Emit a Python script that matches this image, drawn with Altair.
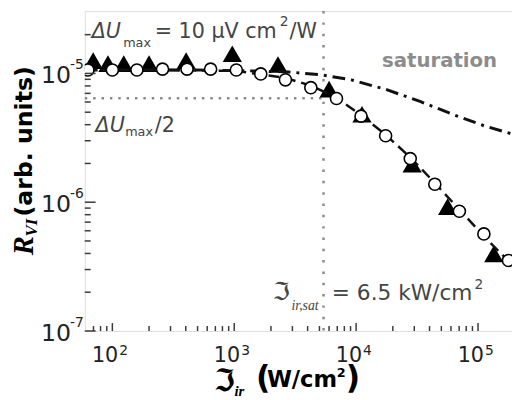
import altair as alt
import pandas as pd

# ---------------- data ----------------
circle_x = [63, 100, 159, 258, 410, 640, 1040, 1650, 2630, 4250, 6900, 10970,
            17460, 27800, 44200, 70300, 111700, 177800]
circle_y = [1.064e-5, 1.064e-5, 1.064e-5, 1.08e-5, 1.08e-5, 1.08e-5, 1.064e-5,
            0.991e-5, 0.892e-5, 0.775e-5, 0.639e-5, 0.466e-5, 0.328e-5,
            0.218e-5, 1.38e-6, 8.5e-7, 5.67e-7, 3.53e-7]

tri_x = [69.6, 92, 124, 200, 403, 964, 2285, 6000, 11170, 28800, 56300, 134600]
tri_y = [1.256e-5, 1.192e-5, 1.192e-5, 1.192e-5, 1.256e-5, 1.422e-5, 1.172e-5,
         7.55e-6, 4.82e-6, 1.97e-6, 9.24e-7, 3.97e-7]

fit_x = [59.4, 258, 1040, 2630, 4250, 6900, 10970, 17460, 27800, 44200, 70300,
         111700, 190000]
fit_y = [1.063e-5, 1.063e-5, 1.045e-5, 9.24e-6, 8.03e-6, 6.50e-6, 4.74e-6,
         3.34e-6, 2.23e-6, 1.41e-6, 8.77e-7, 5.45e-7, 3.27e-7]

sat_x = [59.4, 494, 1503, 2780, 5230, 9120, 17800, 33400, 61700, 113800, 190000]
sat_y = [1.064e-5, 1.064e-5, 1.045e-5, 1.027e-5, 0.974e-5, 0.892e-5, 0.748e-5,
         0.606e-5, 0.482e-5, 0.390e-5, 0.339e-5]

isat_x = [5400]          # vertical dotted line
half_y = [6.42e-6]       # horizontal dotted line (ΔUmax/2)

x_domain = [59.4, 190000]
y_domain = [1e-7, 3.05e-5]

x_major = [100, 1000, 10000, 100000]
x_major_exp = ["2", "3", "4", "5"]
x_minor = [70, 80, 90, 200, 300, 400, 500, 600, 700, 800, 900,
           2000, 3000, 4000, 5000, 6000, 7000, 8000, 9000,
           20000, 30000, 40000, 50000, 60000, 70000, 80000, 90000]
y_major = [1e-7, 1e-6, 1e-5]
y_major_exp = ["-7", "-6", "-5"]
y_minor = [2e-7, 3e-7, 4e-7, 5e-7, 6e-7, 7e-7, 8e-7, 9e-7,
           2e-6, 3e-6, 4e-6, 5e-6, 6e-6, 7e-6, 8e-6, 9e-6, 2e-5]

# ---------------- chart ----------------
W, H = 434, 325
AX = "#3a3a3a"
TXT = "#454545"
SANS = "DejaVu Sans"
SERIF = "Liberation Serif"

xs = alt.Scale(type="log", domain=x_domain)
ys = alt.Scale(type="log", domain=y_domain)

def X(f):
    return alt.X(f, type="quantitative", scale=xs, axis=None)

def Y(f):
    return alt.Y(f, type="quantitative", scale=ys, axis=None)

one = pd.DataFrame({"a": [0]})

def txt(s, x, y, size, color=TXT, font=SANS, style="normal", weight="normal",
        angle=0, align="left"):
    return alt.Chart(one).mark_text(
        text=s, font=font, fontSize=size, fontStyle=style, fontWeight=weight,
        color=color, align=align, baseline="alphabetic", angle=angle
    ).encode(x=alt.value(x), y=alt.value(y))

circ_df = pd.DataFrame({"x": circle_x, "y": circle_y})
tri_df = pd.DataFrame({"x": tri_x, "y": tri_y})
fit_df = pd.DataFrame({"x": fit_x, "y": fit_y})
sat_df = pd.DataFrame({"x": sat_x, "y": sat_y})

vline = alt.Chart(pd.DataFrame({"x": isat_x})).mark_rule(
    color="#8a8a8a", strokeWidth=2.5, strokeDash=[2.5, 9]
).encode(x=X("x"), y=alt.value(0), y2=alt.value(H))

hline = alt.Chart(pd.DataFrame({"xs": [x_domain[0]], "xe": isat_x, "y": half_y})).mark_rule(
    color="#8a8a8a", strokeWidth=2.5, strokeDash=[2.5, 6]
).encode(x=X("xs"), x2="xe", y=Y("y"))

tris = alt.Chart(tri_df).mark_point(
    shape="triangle-up", filled=True, color="black", size=380, opacity=1, clip=True
).encode(x=X("x"), y=Y("y"))

fit = alt.Chart(fit_df).mark_line(
    color="#111", strokeWidth=2.5, strokeDash=[11, 6], clip=True
).encode(x=X("x"), y=Y("y"))

sat = alt.Chart(sat_df).mark_line(
    color="#111", strokeWidth=3, strokeDash=[13, 6, 3, 6], clip=True
).encode(x=X("x"), y=Y("y"))

circs = alt.Chart(circ_df).mark_point(
    shape="circle", filled=True, fill="white", stroke="black", strokeWidth=1.6,
    size=150, opacity=1, clip=True
).encode(x=X("x"), y=Y("y"))

# ticks (inward)
xmaj = alt.Chart(pd.DataFrame({"v": x_major})).mark_rule(color=AX, strokeWidth=1.5).encode(
    x=X("v"), y=alt.value(H - 8), y2=alt.value(H))
xmin = alt.Chart(pd.DataFrame({"v": x_minor})).mark_rule(color=AX, strokeWidth=1.5).encode(
    x=X("v"), y=alt.value(H - 5), y2=alt.value(H))
ymaj = alt.Chart(pd.DataFrame({"v": y_major})).mark_rule(color=AX, strokeWidth=1.5).encode(
    y=Y("v"), x=alt.value(0), x2=alt.value(11))
ymin = alt.Chart(pd.DataFrame({"v": y_minor})).mark_rule(color=AX, strokeWidth=1.5).encode(
    y=Y("v"), x=alt.value(0), x2=alt.value(6))

# tick labels
xlab_df = pd.DataFrame({"v": x_major, "e": x_major_exp})
xlab10 = alt.Chart(xlab_df).mark_text(
    text="10", font=SANS, fontSize=21, color="#222", align="right", baseline="alphabetic", dx=6
).encode(x=X("v"), y=alt.value(357))
xlabe = alt.Chart(xlab_df).mark_text(
    font=SANS, fontSize=14, color="#222", align="left", baseline="alphabetic", dx=7
).encode(x=X("v"), y=alt.value(349), text="e:N")

ylab_df = pd.DataFrame({"v": y_major, "e": y_major_exp})
ylab10 = alt.Chart(ylab_df).mark_text(
    text="10", font=SANS, fontSize=24, color="#222", align="right", baseline="alphabetic", dy=10
).encode(y=Y("v"), x=alt.value(-14))
ylabe = alt.Chart(ylab_df).mark_text(
    font=SANS, fontSize=14, color="#222", align="right", baseline="alphabetic", dy=-4
).encode(y=Y("v"), x=alt.value(-1), text="e:N")

# annotations (plot coordinates = page - (86, 8))
ann = [
    txt("ΔU", 7, 27, 21, style="italic"),
    txt("max", 39, 37, 13),
    txt("= 10 μV cm", 71, 27, 21),
    txt("2", 198, 15, 14),
    txt("/W", 208, 27, 21),
    txt("ΔU", 11, 123, 21, style="italic"),
    txt("max", 41, 127, 13),
    txt("/2", 71, 123, 21),
    txt("saturation", 302, 57, 20, color="#8c8c8c", weight="bold"),
    txt("ℑ", 191, 294, 25, color=TXT, font=SANS),
    txt("ir,sat", 210, 304, 14, font=SERIF, style="italic"),
    txt("= 6.5 kW/cm", 251, 294, 22),
    txt("2", 396, 282, 14),
    # x-axis title
    txt("ℑ", 131, 386, 31, color="black", font=SANS, weight="bold"),
    txt("ir", 152, 391, 15, color="black", font=SERIF, style="italic", weight="bold"),
    txt("(", 174, 383, 32, color="black", weight="bold"),
    txt("W/cm", 185, 382, 23, color="black", weight="bold"),
    txt("2", 256, 372, 13, color="black", weight="bold"),
    txt(")", 265, 383, 32, color="black", weight="bold"),
    # y-axis title (rotated, reads bottom to top)
    txt("R", -53, 248, 29, color="black", font=SERIF, style="italic", weight="bold", angle=270),
    txt("VI", -49, 229, 17, color="black", font=SERIF, style="italic", weight="bold", angle=270),
    txt("(arb. units)", -54, 56, 24, color="black", weight="bold", angle=270, align="right"),
]

chart = alt.layer(
    vline, hline, tris, fit, sat, circs,
    xmaj, xmin, ymaj, ymin, xlab10, xlabe, ylab10, ylabe, *ann
).properties(
    width=W, height=H,
    autosize=alt.AutoSizeParams(type="none"),
    padding={"left": 78, "top": 0, "right": 0, "bottom": 67},
).configure_view(stroke=AX, strokeWidth=2).configure(background="white")

chart.save("out.html", embed_options={"renderer": "svg", "actions": False})
